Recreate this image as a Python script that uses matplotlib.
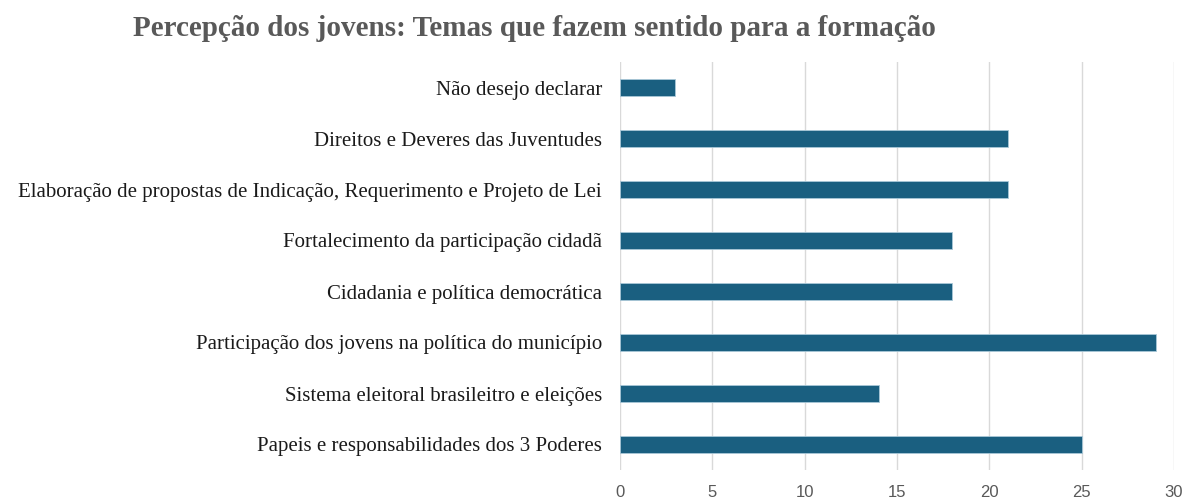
import matplotlib
matplotlib.use("Agg")
import matplotlib.pyplot as plt

categories = [
    "Papeis e responsabilidades dos 3 Poderes",
    "Sistema eleitoral brasileitro e eleições",
    "Participação dos jovens na política do município",
    "Cidadania e política democrática",
    "Fortalecimento da participação cidadã",
    "Elaboração de propostas de Indicação, Requerimento e Projeto de Lei",
    "Direitos e Deveres das Juventudes",
    "Não desejo declarar",
]
values = [25, 14, 29, 18, 18, 21, 21, 3]
xticks = [0, 5, 10, 15, 20, 25, 30]

fig = plt.figure(figsize=(11.82, 5.0), dpi=100)
ax = fig.add_axes([620/1182, 1-470/500, 554/1182, 408/500])
ax.barh(range(len(categories)), values, height=0.35, color="#1a5f80",
        edgecolor="#a9c8d8", linewidth=0.6, zorder=3)
ax.set_xlim(0, 30)
ax.set_ylim(-0.5, len(categories)-0.5)
ax.set_xticks(xticks)
ax.set_xticklabels([str(t) for t in xticks],
                   family=["Liberation Sans Narrow", "Liberation Sans"],
                   fontsize=12, color="#595959")
ax.set_yticks(range(len(categories)))
ax.set_yticklabels(categories, family="Liberation Serif", fontsize=15, color="#1a1a1a")
ax.tick_params(axis="both", length=0)
ax.tick_params(axis="y", pad=13)
ax.tick_params(axis="x", pad=11)
ax.grid(axis="x", color="#d9d9d9", linewidth=1, zorder=0)
for s in ax.spines.values():
    s.set_visible(False)
fig.text(534/1182, 1-28/500, "Percepção dos jovens: Temas que fazem sentido para a formação",
         ha="center", va="center", family="Liberation Serif", fontweight="bold",
         fontsize=21, color="#595959")
fig.savefig("out.png", dpi=100, facecolor="white")
